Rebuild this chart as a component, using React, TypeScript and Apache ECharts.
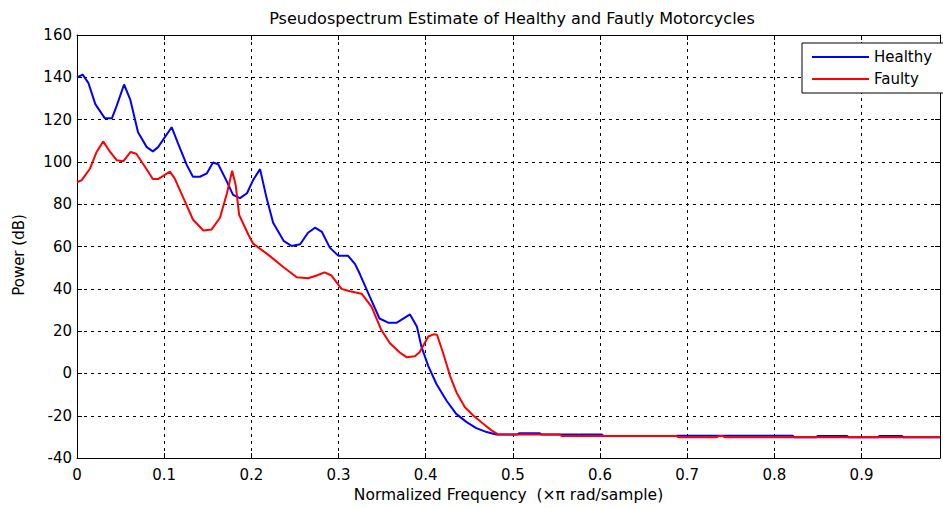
import React, { useEffect, useRef } from "react";
import * as echarts from "echarts";

const TITLE = "Pseudospectrum Estimate of Healthy and Fautly Motorcycles";
const X_NAME = "Normalized Frequency  (\u00d7\u03c0 rad/sample)";
const Y_NAME = "Power (dB)";
const SERIES_NAMES = ["Healthy", "Faulty"];

const healthyFreq = [
  0, 0.0065, 0.013, 0.021, 0.032, 0.04, 0.0455, 0.054, 0.061, 0.07, 0.08, 0.087, 0.093,
  0.1086, 0.116, 0.126, 0.133, 0.141, 0.149, 0.156, 0.162, 0.172, 0.179, 0.187, 0.195,
  0.202, 0.21, 0.2175, 0.225, 0.237, 0.246, 0.256, 0.265, 0.273, 0.281, 0.29, 0.3,
  0.311, 0.319, 0.3245, 0.336, 0.347, 0.357, 0.367, 0.382, 0.39, 0.395, 0.403, 0.4125,
  0.424, 0.435, 0.447, 0.458, 0.47, 0.481, 0.505, 0.507, 0.531, 0.533, 0.575, 0.577,
  0.602, 0.604, 0.686, 0.688, 0.821, 0.823, 0.848, 0.85, 0.883, 0.885, 0.919, 0.921,
  0.946, 0.948, 0.99,
];
const healthyPower = [
  140, 141.3, 137.4, 127.3, 120.6, 120.6, 126.5, 136.6, 129.6, 114, 107, 105, 107,
  116.4, 108.6, 98.5, 93, 93, 94.6, 99.7, 98.9, 90.7, 84.4, 82.9, 85.2,
  91.4, 96.6, 82.9, 71.2, 62.7, 60.3, 61.1, 66.5, 68.9, 66.9, 59.5, 55.6,
  55.6, 51.7, 47, 36.2, 26, 24, 24, 27.9, 22.1, 12.8, 3.5, -5.1,
  -12.9, -19.1, -23, -25.8, -27.7, -28.8, -28.8, -28.3, -28.3, -28.9, -28.9, -28.8,
  -28.8, -29.6, -29.6, -29.4, -29.4, -30.1, -30.1, -29.5, -29.5, -30.1, -30.1, -29.5,
  -29.5, -30.1, -30.1,
];

const faultyFreq = [
  0, 0.0054, 0.015, 0.0225, 0.03, 0.038, 0.0455, 0.053, 0.0615, 0.068, 0.078, 0.087,
  0.093, 0.1066, 0.112, 0.122, 0.133, 0.145, 0.1545, 0.164, 0.172, 0.178, 0.182, 0.186,
  0.1965, 0.202, 0.221, 0.237, 0.252, 0.265, 0.275, 0.284, 0.292, 0.3035, 0.313, 0.3265,
  0.338, 0.349, 0.359, 0.37, 0.378, 0.3876, 0.393, 0.403, 0.409, 0.413, 0.42, 0.428,
  0.4355, 0.445, 0.4545, 0.466, 0.4755, 0.483, 0.554, 0.556, 0.688, 0.69, 0.734, 0.736,
  0.741, 0.743, 0.99,
];
const faultyPower = [
  90.4, 91.4, 96.9, 104.7, 109.7, 104.7, 100.8, 100.3, 104.7, 103.9, 97.7, 91.9,
  91.9, 95.4, 92.2, 83, 72.8, 67.6, 68.1, 73.6, 85.2, 95.8, 89.1, 75,
  65.7, 61.4, 55.6, 50.2, 45.5, 45, 46.3, 47.8, 46.3, 40, 38.9, 37.7,
  31.5, 20.6, 14.3, 10, 7.7, 8.1, 10, 17.5, 18.5, 18.3, 9.7, -1.2,
  -9.1, -16, -19.9, -23.8, -26.9, -28.8, -28.9, -29.6, -29.6, -30.1, -30.1, -29.6,
  -29.6, -30.1, -30.1,
];

const X_MIN = 0;
const X_MAX = 0.99;
const X_STEP = 0.1;
const Y_MIN = -40;
const Y_MAX = 160;
const Y_STEP = 20;

const FONT = "DejaVu Sans";

function zip(xs: number[], ys: number[]) {
  return xs.map((x, i) => [x, ys[i]]);
}

function fmtX(v: number) {
  const k = Math.round(v / X_STEP);
  if (Math.abs(v - k * X_STEP) > 1e-6 || v > 0.95) return "";
  return k === 0 ? "0" : (k / 10).toFixed(1);
}

export default function App() {
  const ref = useRef<HTMLDivElement>(null);
  useEffect(() => {
    if (!ref.current) return;
    const chart = echarts.init(ref.current, null, { renderer: "svg" });
    const gridLine = { show: true, lineStyle: { color: "#000", type: [3, 4], width: 1 } };
    const axisLine = { show: true, onZero: false, lineStyle: { color: "#000", width: 1 } };
    const tick = { show: true, inside: true, length: 5, lineStyle: { color: "#000" } };
    const label = { color: "#000", fontFamily: FONT, fontSize: 15 };
    chart.setOption({
      animation: false,
      backgroundColor: "#fff",
      grid: { left: 77, right: 3, top: 35, bottom: 45, show: false },
      graphic: [
        {
          type: "text",
          x: 512,
          y: 18,
          style: {
            text: TITLE,
            fontFamily: FONT,
            fontSize: 16,
            fill: "#000",
            textAlign: "center",
            textVerticalAlign: "middle",
          },
        },
        {
          type: "text",
          x: 19,
          y: 255,
          rotation: Math.PI / 2,
          style: {
            text: Y_NAME,
            fontFamily: FONT,
            fontSize: 15,
            fill: "#000",
            textAlign: "center",
            textVerticalAlign: "middle",
          },
        },
      ],
      legend: {
        left: 802,
        top: 43,
        orient: "vertical",
        data: SERIES_NAMES,
        icon: "rect",
        itemWidth: 57,
        itemHeight: 2,
        itemGap: 4,
        padding: [5, 14, 5, 10],
        backgroundColor: "#fff",
        borderColor: "#000",
        borderWidth: 1,
        borderRadius: 0,
        textStyle: { color: "#000", fontFamily: FONT, fontSize: 15, lineHeight: 18 },
      },
      xAxis: [
        {
          type: "value",
          min: X_MIN,
          max: X_MAX,
          interval: X_STEP,
          name: X_NAME,
          nameLocation: "middle",
          nameGap: 26,
          nameTextStyle: { color: "#000", fontFamily: FONT, fontSize: 15.5 },
          axisLine,
          axisTick: tick,
          axisLabel: { ...label, margin: 9, formatter: fmtX, showMaxLabel: false },
          splitLine: gridLine,
        },
        {
          type: "value",
          position: "top",
          min: X_MIN,
          max: X_MAX,
          interval: X_STEP,
          axisLine,
          axisTick: tick,
          axisLabel: { show: false },
          splitLine: { show: false },
        },
      ],
      yAxis: [
        {
          type: "value",
          min: Y_MIN,
          max: Y_MAX,
          interval: Y_STEP,
          axisLine,
          axisTick: tick,
          axisLabel: { ...label, margin: 5 },
          splitLine: gridLine,
        },
        {
          type: "value",
          position: "right",
          min: Y_MIN,
          max: Y_MAX,
          interval: Y_STEP,
          axisLine,
          axisTick: tick,
          axisLabel: { show: false },
          splitLine: { show: false },
        },
      ],
      series: [
        {
          name: SERIES_NAMES[0],
          type: "line",
          data: zip(healthyFreq, healthyPower),
          showSymbol: false,
          symbol: "none",
          lineStyle: { color: "#0000ff", width: 2 },
          itemStyle: { color: "#0000ff" },
        },
        {
          name: SERIES_NAMES[1],
          type: "line",
          data: zip(faultyFreq, faultyPower),
          showSymbol: false,
          symbol: "none",
          lineStyle: { color: "#ff0000", width: 2 },
          itemStyle: { color: "#ff0000" },
        },
      ],
    });
    return () => chart.dispose();
  }, []);
  return <div ref={ref} style={{ width: 943, height: 508, position: "absolute", left: 0, top: 0 }} />;
}
